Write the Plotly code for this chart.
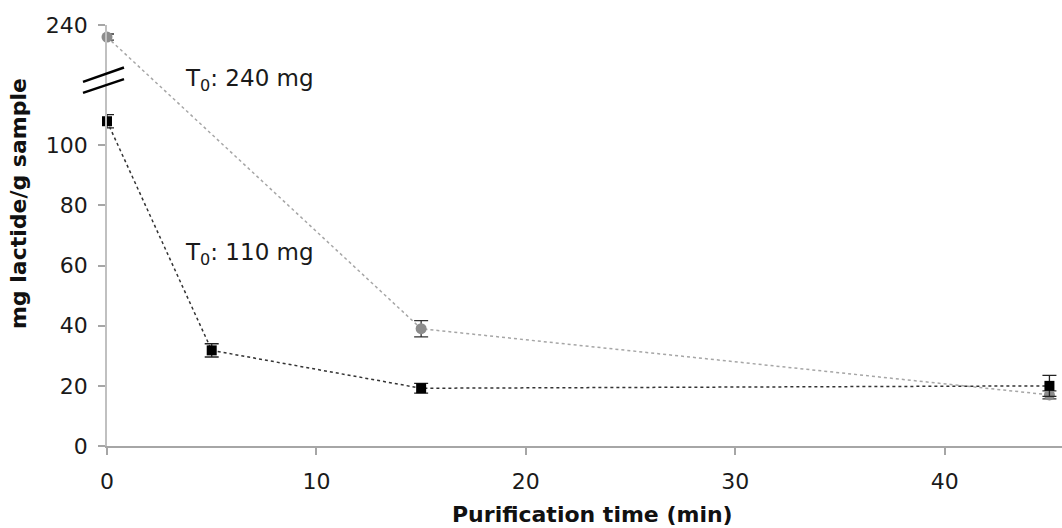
import plotly.graph_objects as go

# ---- data (real values) ----
black_time = [0, 5, 15, 45]
black_mg = [108, 31.8, 19.2, 20.0]
black_err = [2.2, 2.2, 1.6, 3.5]

gray_time = [0, 15, 45]
gray_mg = [236, 39.0, 17.0]
gray_err = [1.0, 2.7, 1.3]

# broken y axis: values above the break are shifted down by this amount
BREAK_AT = 120
BREAK_OFFSET = 100
y_tick_values = [0, 20, 40, 60, 80, 100, 240]
x_tick_values = [0, 10, 20, 30, 40]

def to_display(v):
    return v - BREAK_OFFSET if v > BREAK_AT else v

FONT = "DejaVu Sans, Arial, sans-serif"

fig = go.Figure()

fig.add_trace(go.Scatter(
    x=gray_time, y=[to_display(v) for v in gray_mg],
    error_y=dict(type="data", array=gray_err, color="#333333", thickness=1.3, width=7),
    mode="lines+markers", cliponaxis=False,
    line=dict(color="#a6a6a6", width=1.5, dash="dot"),
    marker=dict(symbol="circle", size=11, color="#8c8c8c"),
    showlegend=False,
))
fig.add_trace(go.Scatter(
    x=black_time, y=[to_display(v) for v in black_mg],
    error_y=dict(type="data", array=black_err, color="#222222", thickness=1.3, width=7),
    mode="lines+markers", cliponaxis=False,
    line=dict(color="#333333", width=1.5, dash="dot"),
    marker=dict(symbol="square", size=10, color="#000000"),
    showlegend=False,
))

y_top = to_display(240)

fig.update_layout(
    width=1062, height=528,
    margin=dict(l=107, r=0, t=25, b=82),
    paper_bgcolor="white", plot_bgcolor="white",
    font=dict(family=FONT, size=22, color="#1a1a1a"),
    xaxis=dict(
        range=[0, 45.6], tickvals=x_tick_values, ticktext=[str(v) for v in x_tick_values],
        showline=True, linecolor="#a6a6a6", linewidth=1.5,
        ticks="outside", ticklen=7, tickcolor="#a6a6a6", tickwidth=1.5,
        showgrid=False, zeroline=False, ticklabelstandoff=8,
        tickfont=dict(family=FONT, size=22, color="#1a1a1a"),
    ),
    yaxis=dict(
        range=[0, y_top],
        tickvals=[to_display(v) for v in y_tick_values],
        ticktext=[str(v) for v in y_tick_values],
        showline=True, linecolor="#c0c0c0", linewidth=1.5,
        ticks="outside", ticklen=7, tickcolor="#a6a6a6", tickwidth=1.5,
        showgrid=False, zeroline=False, ticklabelstandoff=6,
        tickfont=dict(family=FONT, size=22, color="#1a1a1a"),
    ),
    annotations=[
        dict(text="<b>Purification time (min)</b>", xref="paper", yref="paper",
             x=0.508, y=-0.162, xanchor="center", yanchor="middle", showarrow=False,
             font=dict(family=FONT, size=22, color="#111111")),
        dict(text="<b>mg lactide/g sample</b>", xref="paper", yref="paper",
             x=-0.092, y=0.575, xanchor="center", yanchor="middle", showarrow=False,
             textangle=-90, font=dict(family=FONT, size=22, color="#111111")),
        dict(text="T<sub>0</sub>: 240 mg", xref="paper", yref="paper",
             x=0.0796, y=0.869, xanchor="left", yanchor="middle", showarrow=False,
             font=dict(family=FONT, size=23, color="#1a1a1a")),
        dict(text="T<sub>0</sub>: 110 mg", xref="paper", yref="paper",
             x=0.0796, y=0.456, xanchor="left", yanchor="middle", showarrow=False,
             font=dict(family=FONT, size=23, color="#1a1a1a")),
    ],
    shapes=[
        dict(type="line", xref="paper", yref="paper", xsizemode="pixel", ysizemode="pixel",
             xanchor=0, yanchor=(BREAK_AT + 2) / y_top,
             x0=-24, x1=17, y0=-2.7, y1=11.6, line=dict(color="#000000", width=2.5)),
        dict(type="line", xref="paper", yref="paper", xsizemode="pixel", ysizemode="pixel",
             xanchor=0, yanchor=(BREAK_AT + 2) / y_top,
             x0=-24, x1=17, y0=-13.7, y1=0.0, line=dict(color="#000000", width=2.5)),
    ],
)

fig.write_html("out.html", config={"displayModeBar": False})
